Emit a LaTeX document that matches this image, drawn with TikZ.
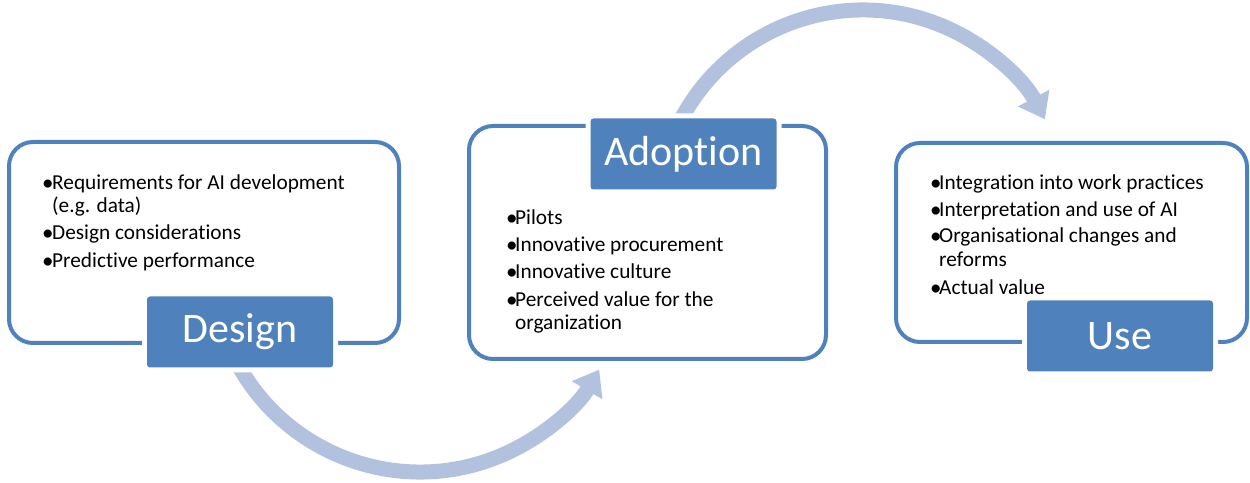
\documentclass[tikz,border=0pt]{standalone}
\usepackage{fontspec}
\setmainfont[Ligatures={NoCommon}]{Carlito}
\usetikzlibrary{arrows.meta}
\definecolor{boxblue}{RGB}{79,129,189}
\definecolor{arrowblue}{RGB}{178,194,222}
\newcommand{\bul}[1]{\makebox[#1][l]{\raisebox{-0.3pt}{\fontsize{23}{23}\selectfont •}}}
\begin{document}
\begin{tikzpicture}[x=1pt,y=1pt,
  outerbox/.style={draw=boxblue, line width=4pt, rounded corners=24pt},
  stagelabel/.style={fill=boxblue, rounded corners=3pt, inner sep=0pt,
    minimum width=186pt, minimum height=71pt, text=white,
    font=\fontsize{42}{50}\selectfont,
    preaction={draw=white, line width=10pt}},
  item/.style={anchor=base west, inner sep=0pt, font=\fontsize{21.3}{25}\selectfont},
  flowarrow/.style={draw=arrowblue, line width=15pt, -{Triangle[length=24pt,width=34pt]}}
]
\useasboundingbox (0,0) rectangle (1250,482);

% circular arrows (drawn first, partly hidden by the labels)
\coordinate (c1) at (420,218);
\coordinate (c2) at (863,266);
\draw[flowarrow] ([shift={(-155:208)}]c1) arc[start angle=-155, end angle=-30.5, radius=208];
\draw[flowarrow] ([shift={(155:206)}]c2) arc[start angle=155, end angle=28, radius=206];

% outer boxes
\draw[outerbox] (9,139) rectangle (399,340);
\draw[outerbox] (469,123) rectangle (826,356);
\draw[outerbox] (896,140) rectangle (1247,339);

% stage labels
\node[stagelabel] (design) at (240,150) {Design};
\node[stagelabel] (adoption) at (683.5,328) {Adoption};
\node[stagelabel] (use) at (1120,146) {Use};

% Design items
\node[item] (d1) at (42,292) {\bul{10pt}Requirements for AI development};
\node[item] (d1b) at (52,269) {(e.g. data)};
\node[item] (d2) at (42,242) {\bul{10pt}Design considerations};
\node[item] (d3) at (42,214) {\bul{10pt}Predictive performance};

% Adoption items
\node[item] (a1) at (506,257) {\bul{9pt}Pilots};
\node[item] (a2) at (506,230) {\bul{9pt}Innovative procurement};
\node[item] (a3) at (506,203) {\bul{9pt}Innovative culture};
\node[item] (a4) at (506,175) {\bul{9pt}Perceived value for the};
\node[item] (a4b) at (515,152) {organization};

% Use items
\node[item] (u1) at (930,292) {\bul{9pt}Integration into work practices};
\node[item] (u2) at (930,265) {\bul{9pt}Interpretation and use of AI};
\node[item] (u3) at (930,239) {\bul{9pt}Organisational changes and};
\node[item] (u3b) at (939,215) {reforms};
\node[item] (u4) at (930,187) {\bul{9pt}Actual value};
\end{tikzpicture}
\end{document}
